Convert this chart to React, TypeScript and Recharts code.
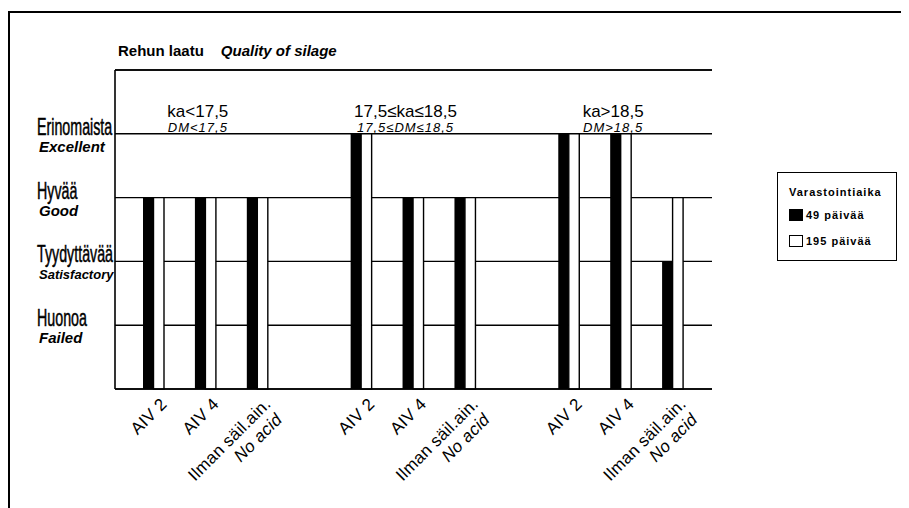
import React from "react";
import {
  BarChart,
  Bar,
  XAxis,
  YAxis,
  CartesianGrid,
  ReferenceDot,
  ReferenceLine,
  Legend,
} from "recharts";

// 11 slots: three treatment groups of three, with an empty slot between groups
const slotIds = ["g1-aiv2", "g1-aiv4", "g1-none", "gap1", "g2-aiv2", "g2-aiv4", "g2-none", "gap2", "g3-aiv2", "g3-aiv4", "g3-none"];
const tickLabels = ["AIV 2", "AIV 4", "Ilman säil.ain.", "", "AIV 2", "AIV 4", "Ilman säil.ain.", "", "AIV 2", "AIV 4", "Ilman säil.ain."];
const tickSubLabels = ["", "", "No acid", "", "", "", "No acid", "", "", "", "No acid"];

// quality score: 1 = Huonoa, 2 = Tyydyttävää, 3 = Hyvää, 4 = Erinomaista
const days49 = [3, 3, 3, null, 4, 3, 3, null, 4, 4, 2];
const days195 = [3, 3, 3, null, 4, 3, 3, null, 4, 4, 3];
const seriesNames = ["49 päivää", "195 päivää"];

const qualityTicks = [0, 1, 2, 3, 4, 5];
const qualityFi = ["", "Huonoa", "Tyydyttävää", "Hyvää", "Erinomaista", ""];
const qualityEn = ["", "Failed", "Satisfactory", "Good", "Excellent", ""];

const groupSlots = ["g1-aiv4", "g2-aiv4", "g3-aiv4"];
const groupTop = ["ka<17,5", "17,5≤ka≤18,5", "ka>18,5"];
const groupBottom = ["DM<17,5", "17,5≤DM≤18,5", "DM>18,5"];

const FONT = '"Liberation Sans", Arial, sans-serif';

const data = slotIds.map((id, i) => ({
  id,
  d49: days49[i],
  d195: days195[i],
}));

function QualityTick(props: any) {
  const { y, payload } = props;
  const i = qualityTicks.indexOf(payload.value);
  const fi = qualityFi[i];
  const en = qualityEn[i];
  if (!fi) return null;
  return (
    <g fontFamily={FONT} fill="#000">
      <text
        transform={`translate(29,${y + 1}) scale(0.62,1)`}
        fontSize={23}
        stroke="#000"
        strokeWidth={0.5}
      >
        {fi}
      </text>
      <text
        x={31}
        y={y + 18}
        fontSize={en.length > 10 ? 13 : 15}
        fontStyle="italic"
        fontWeight="bold"
      >
        {en}
      </text>
    </g>
  );
}

function TreatmentTick(props: any) {
  const { x, y, payload } = props;
  const i = slotIds.indexOf(payload.value);
  const label = tickLabels[i];
  if (!label) return null;
  const sub = tickSubLabels[i];
  const ax = x + 14;
  const ay = y + 4;
  return (
    <text
      transform={`rotate(-45, ${ax}, ${ay})`}
      x={ax}
      y={ay}
      textAnchor="end"
      fontSize={17}
      letterSpacing={0.3}
      fontFamily={FONT}
      fill="#000"
    >
      <tspan x={ax}>{label}</tspan>
      {sub ? (
        <tspan x={ax - 3} dy={19} fontStyle="italic">
          {sub}
        </tspan>
      ) : null}
    </text>
  );
}

function GroupLabel({ viewBox, k }: any) {
  const cx = viewBox.x + viewBox.width / 2 - 8;
  const cy = viewBox.y + viewBox.height / 2;
  return (
    <g fontFamily={FONT} fill="#000">
      <text x={cx} y={cy - 17} textAnchor="middle" fontSize={17}>
        {groupTop[k]}
      </text>
      <text
        x={cx}
        y={cy - 2}
        textAnchor="middle"
        fontSize={13}
        letterSpacing={1}
        fontStyle="italic"
      >
        {groupBottom[k]}
      </text>
    </g>
  );
}

function LegendBox({ payload }: any) {
  const items = [...(payload || [])].sort(
    (a: any, b: any) => seriesNames.indexOf(a.value) - seriesNames.indexOf(b.value)
  );
  return (
    <div
      style={{
        position: "relative",
        width: 120,
        height: 89,
        boxSizing: "border-box",
        border: "1.5px solid #000",
        background: "#fff",
        fontFamily: FONT,
        fontWeight: "bold",
        fontSize: 11,
        letterSpacing: 1,
        color: "#000",
      }}
    >
      <div style={{ position: "absolute", left: 11, top: 13, lineHeight: "13px" }}>
        Varastointiaika
      </div>
      {items.map((e: any, i: number) => (
        <div
          key={e.value}
          style={{
            position: "absolute",
            left: 11,
            top: 34 + i * 26,
            height: 16,
            display: "flex",
            alignItems: "center",
            whiteSpace: "nowrap",
          }}
        >
          <span
            style={{
              display: "inline-block",
              width: 14,
              height: 12,
              boxSizing: "border-box",
              background: e.color,
              border: "1.5px solid #000",
              marginRight: 3,
            }}
          />
          {e.value}
        </div>
      ))}
    </div>
  );
}

export default function App() {
  return (
    <div style={{ position: "relative", width: 901, height: 500, background: "#fff" }}>
      <div
        style={{
          position: "absolute",
          left: 0,
          top: 3,
          width: 901,
          height: 497,
          borderTop: "2px solid #000",
          borderLeft: "2px solid #000",
        }}
      />
      <div
        style={{
          position: "absolute",
          left: 110,
          top: 35,
          fontFamily: FONT,
          fontSize: 15,
          lineHeight: "15px",
          fontWeight: "bold",
          whiteSpace: "nowrap",
        }}
      >
        Rehun laatu
        <span style={{ fontStyle: "italic", marginLeft: 17 }}>Quality of silage</span>
      </div>
      <BarChart
        width={901}
        height={500}
        data={data}
        margin={{ top: 62, right: 197, bottom: 0, left: 0 }}
        barGap={0}
        style={{ position: "absolute", left: 0, top: 0 }}
      >
        <CartesianGrid vertical={false} stroke="#000" strokeWidth={1.4} />
        <XAxis
          dataKey="id"
          interval={0}
          tickLine={false}
          tickSize={0}
          tickMargin={12}
          height={119}
          padding={{ left: 13, right: 13 }}
          axisLine={{ stroke: "#000", strokeWidth: 1.6 }}
          tick={<TreatmentTick />}
        />
        <YAxis
          type="number"
          domain={[0, 5]}
          ticks={qualityTicks}
          interval={0}
          width={107}
          tickLine={false}
          axisLine={{ stroke: "#000", strokeWidth: 1.6 }}
          tick={<QualityTick />}
        />
        <YAxis
          yAxisId="frame"
          orientation="right"
          domain={[0, 5]}
          width={0}
          tick={false}
          tickLine={false}
          axisLine={{ stroke: "#000", strokeWidth: 1.6 }}
        />
        <ReferenceLine y={5} stroke="#000" strokeWidth={1.6} />
        <Bar
          dataKey="d49"
          name={seriesNames[0]}
          fill="#000"
          barSize={10.5}
          isAnimationActive={false}
        />
        <Bar
          dataKey="d195"
          name={seriesNames[1]}
          fill="#fff"
          stroke="#000"
          strokeWidth={1.4}
          barSize={10.5}
          isAnimationActive={false}
        />
        {groupSlots.map((slot, k) => (
          <ReferenceDot
            key={slot}
            x={slot}
            y={4}
            r={1}
            fill="none"
            stroke="none"
            label={(p: any) => <GroupLabel {...p} k={k} />}
          />
        ))}
        <Legend
          layout="vertical"
          align="center"
          verticalAlign="middle"
          wrapperStyle={{ position: "absolute", left: 769, top: 164, width: 120, height: 89 }}
          content={<LegendBox />}
        />
      </BarChart>
    </div>
  );
}
